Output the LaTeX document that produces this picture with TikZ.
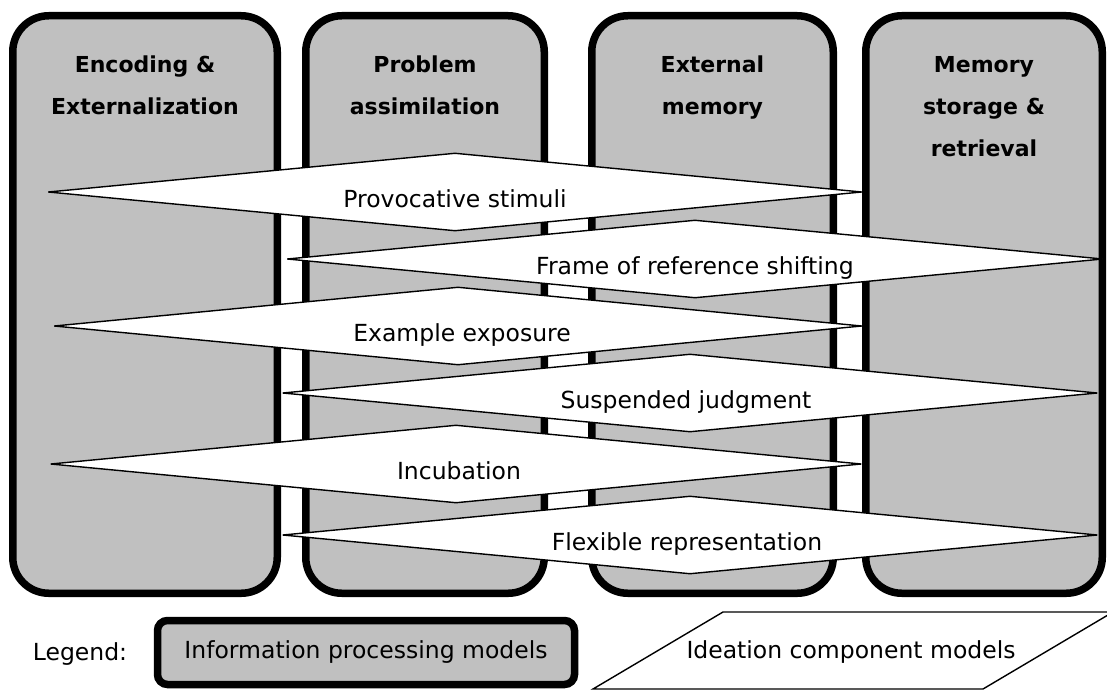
\documentclass[tikz,border=0pt]{standalone}
\usepackage{fontspec}
\setmainfont{DejaVu Sans}
\usepackage{tikz}
\usetikzlibrary{shapes.geometric}
\definecolor{modelgray}{RGB}{192,192,192}

\begin{document}
\begin{tikzpicture}[x=1pt, y=-1pt,
    model/.style={draw, line width=7.5pt, fill=modelgray, rounded corners=36pt,
                  minimum height=577.5pt, inner sep=0pt},
    modeltitle/.style={font=\fontsize{22}{42}\selectfont\bfseries, align=center,
                       anchor=north, inner sep=0pt},
    idea/.style={diamond, draw, fill=white, line width=1.4pt, inner sep=0pt,
                 minimum height=78pt},
    ideatext/.style={font=\fontsize{23.5}{28}\selectfont, anchor=base, inner sep=0pt}]
    \useasboundingbox (0,0) rectangle (1107,690);

    % the information processing models (columns)
    \node[model, minimum width=264.5pt] (encoding) at (145,304.5) {};
    \node[model, minimum width=238.5pt] (assimilation) at (425,304.5) {};
    \node[model, minimum width=241.5pt] (external) at (712.5,304.5) {};
    \node[model, minimum width=236.5pt] (storage) at (984,304.5) {};

    % the column titles
    \node[modeltitle] (encodingT) at (145,56) {Encoding \&\\Externalization};
    \node[modeltitle] (assimilationT) at (425,56) {Problem\\assimilation};
    \node[modeltitle] (externalT) at (712.5,56) {External\\memory};
    \node[modeltitle] (storageT) at (984,56.5) {Memory\\storage \&\\retrieval};

    % the ideation components (diamonds across the columns)
    \node[idea, minimum width=814pt] (stimuli) at (455,192) {};
    \node[idea, minimum width=816pt] (frame) at (695,259) {};
    \node[idea, minimum width=808pt] (example) at (458,326) {};
    \node[idea, minimum width=815pt] (suspended) at (690,393) {};
    \node[idea, minimum width=811pt] (incubation) at (456,464) {};
    \node[idea, minimum width=815pt] (flexible) at (690,535) {};

    % the texts
    \node[ideatext] (stimuliT) at ([yshift=-15.5pt]stimuli.center) {Provocative stimuli};
    \node[ideatext] (frameT) at ([yshift=-15.5pt]frame.center) {Frame of reference shifting};
    \node[ideatext] (exampleT) at ([xshift=4pt,yshift=-15.5pt]example.center) {Example exposure};
    \node[ideatext] (suspendedT) at ([xshift=-4pt,yshift=-15.5pt]suspended.center) {Suspended judgment};
    \node[ideatext] (incubationT) at ([xshift=3pt,yshift=-15.5pt]incubation.center) {Incubation};
    \node[ideatext] (flexibleT) at ([xshift=-3pt,yshift=-15.5pt]flexible.center) {Flexible representation};

    % the legend
    \node[ideatext] (legend) at (80,660) {Legend:};
    \node[model, minimum width=417pt, minimum height=64pt, rounded corners=10pt,
          font=\fontsize{23.5}{28}\selectfont] (legendInfo) at (366,652.5) {Information processing models};
    \draw[line width=1.4pt] (593,689) -- (723,612) -- (1113,612) -- (983,689) -- cycle;
    \node[ideatext] (legendIdea) at (851,658) {Ideation component models};
\end{tikzpicture}
\end{document}
